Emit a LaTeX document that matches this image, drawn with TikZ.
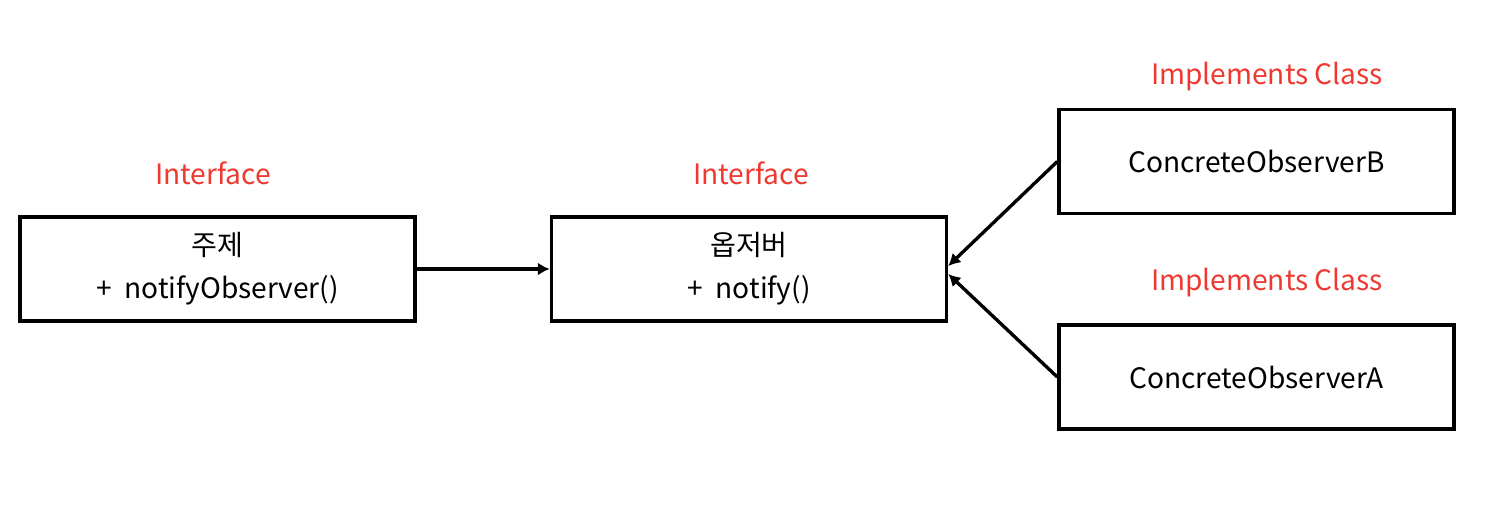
\documentclass[tikz,border=0pt]{standalone}
\usepackage{fontspec}
\setmainfont{Noto Sans CJK KR}
\usepackage{tikz}
\usetikzlibrary{positioning,arrows.meta}
\newcommand{\definitions}{%
  % color of the stereotype labels
  \definecolor{colLabel}{RGB}{238,56,48}
  % color of the class boxes
  \colorlet{colBox}{black}

  % center coordinate of the subject
  \coordinate (oSubj) at (217.5,269);
  % center coordinate of the observer
  \coordinate (oObs) at (749,269);
  % center coordinates of the concrete observers
  \coordinate (oObsB) at (1256.5,161.5);
  \coordinate (oObsA) at (1256.5,377);
}
\tikzset{
  classbox/.style={draw=colBox, line width=2pt, minimum width=7.9cm,
    minimum height=2.08cm, align=center, font=\fontsize{16}{24.5}\selectfont},
  stereo/.style={text=colLabel, font=\fontsize{16}{20}\selectfont},
  arrow/.style={line width=1.9pt, -{Latex[length=2.4mm,width=2.6mm]}}
}
\begin{document}
\begin{tikzpicture}[x=0.02cm,y=-0.02cm]

  % fix the margins
  \useasboundingbox (0,0) rectangle (1494,512);

  % define colors and centers
  \definitions

  % draw the class boxes
  \node[classbox] (subj) at (oSubj) {주제\\+\ \ notifyObserver()};
  \node[classbox] (obs) at (oObs) {옵저버\\+\ \ notify()};
  \node[classbox] (obsB) at (oObsB) {ConcreteObserverB};
  \node[classbox] (obsA) at (oObsA) {ConcreteObserverA};

  % add stereotype label for each box
  \node[stereo] [above=0.48cm of subj, xshift=-0.09cm] {Interface};
  \node[stereo] [above=0.48cm of obs, xshift=0.04cm] {Interface};
  \node[stereo] [above=0.22cm of obsB, xshift=0.21cm] {Implements Class};
  \node[stereo] [above=0.4cm of obsA, xshift=0.21cm] {Implements Class};

  % end points on the observer
  \coordinate (inB) at ([yshift=0.06cm]obs.east);
  \coordinate (inA) at ([yshift=-0.1cm]obs.east);

  % connect the boxes
  \draw[arrow] (subj) -- (obs);
  \draw[arrow] (obsB.west) -- (inB);
  \draw[arrow] (obsA.west) -- (inA);

\end{tikzpicture}
\end{document}
